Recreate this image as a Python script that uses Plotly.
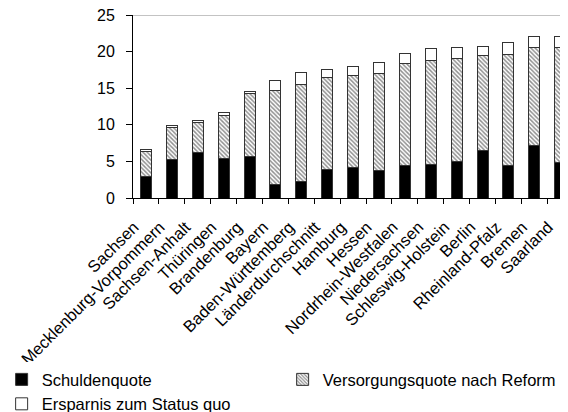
import plotly.graph_objects as go

laender = ["Sachsen", "Mecklenburg-Vorpommern", "Sachsen-Anhalt", "Thüringen",
           "Brandenburg", "Bayern", "Baden-Württemberg", "Länderdurchschnitt",
           "Hamburg", "Hessen", "Nordrhein-Westfalen", "Niedersachsen",
           "Schleswig-Holstein", "Berlin", "Rheinland-Pfalz", "Bremen", "Saarland"]
schuldenquote = [3.0, 5.2, 6.2, 5.4, 5.7, 1.8, 2.2, 3.95, 4.1, 3.8, 4.5, 4.55, 5.05, 6.55, 4.5, 7.2, 4.9]
versorgungsquote = [3.3, 4.4, 4.1, 5.9, 8.6, 12.9, 13.3, 12.45, 12.6, 13.2, 13.9, 14.25, 14.0, 12.9, 15.1, 13.3, 15.6]
ersparnis = [0.35, 0.35, 0.3, 0.4, 0.3, 1.4, 1.6, 1.2, 1.25, 1.45, 1.4, 1.6, 1.45, 1.25, 1.6, 1.5, 1.6]
y_ticks = [0, 5, 10, 15, 20, 25]

FONT = "Liberation Sans, Arial, sans-serif"
line = dict(color="#333333", width=1)

fig = go.Figure()
fig.add_trace(go.Bar(x=laender, y=schuldenquote, name="Schuldenquote",
                     marker=dict(color="black", line=line)))
fig.add_trace(go.Bar(x=laender, y=versorgungsquote, name="Versorgungsquote nach Reform",
                     marker=dict(color="white", line=line,
                                 pattern=dict(shape="\\", fgcolor="#222222", bgcolor="white",
                                              size=3, solidity=0.5))))
fig.add_trace(go.Bar(x=laender, y=ersparnis, name="Ersparnis zum Status quo",
                     marker=dict(color="white", line=line)))

fig.add_shape(type="line", xref="paper", yref="y", x0=0, x1=1, y0=25, y1=25,
              line=dict(color="#888888", width=1))

fig.update_layout(
    width=568, height=412,
    margin=dict(l=125, r=8, t=7, b=222, autoexpand=False),
    barmode="stack", bargap=0.575,
    plot_bgcolor="white", paper_bgcolor="white",
    font=dict(family=FONT, size=17, color="black"),
    showlegend=True,
    legend=dict(orientation="h", x=-0.302, xanchor="left", y=-0.897, yanchor="top",
                entrywidth=236, traceorder="normal", font=dict(size=16.5),
                itemwidth=30, tracegroupgap=0),
)
fig.update_xaxes(tickangle=-45, showline=True, linecolor="black", linewidth=1,
                 ticks="outside", ticklen=5, tickcolor="black", tickson="boundaries",
                 range=[-0.5, 16.3], tickfont=dict(size=16.5), showgrid=False,
                 automargin=False, ticklabelshift=-12, ticklabelstandoff=12)
fig.update_yaxes(range=[0, 25], tickvals=y_ticks, showline=True, linecolor="black",
                 linewidth=1, ticks="outside", ticklen=6, tickcolor="black",
                 showgrid=False, zeroline=False, tickfont=dict(size=16),
                 automargin=False, ticklabelstandoff=8, ticklabeloverflow="allow")

fig.write_html("out.html")
